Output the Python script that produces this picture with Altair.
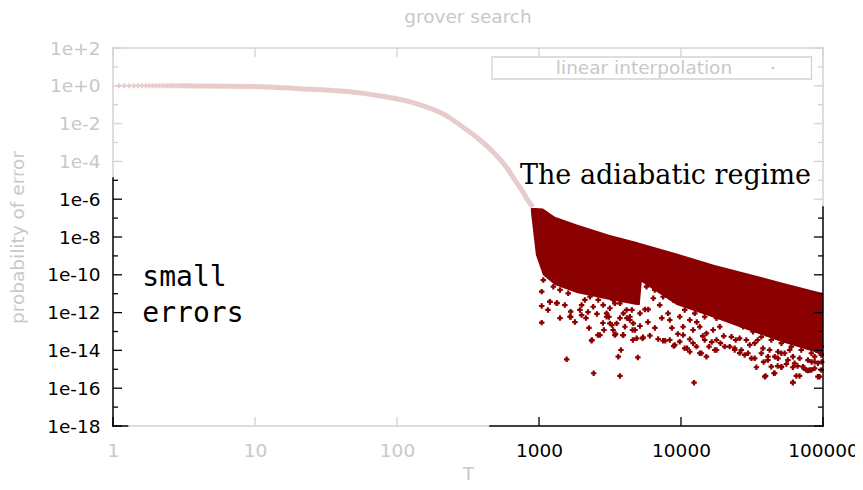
import altair as alt
import pandas as pd

W, H = 710, 378
DARK = "#8b0000"
PINK = "#e8cccc"
GTXT = "#c8c8c8"
GAX = "#d3d3d3"
FONT = "DejaVu Sans"

# ---------------- data ----------------
chart_title = "grover search"

# early, faded samples (individual crosses near T=1)
early_T = [1.1, 1.2, 1.3, 1.4, 1.5, 1.6, 1.7, 1.8, 1.9, 2.0,
           2.1, 2.2, 2.3, 2.4, 2.5, 2.6, 2.7, 2.8, 2.9, 3.0]
early_p = [1.0, 1.0, 1.0, 1.0, 1.0, 1.0, 1.0, 1.0, 1.0, 1.0,
           1.0, 1.0, 1.0, 1.0, 1.0, 1.0, 1.0, 1.0, 1.0, 1.0]

# faded curve (dense samples merging into a band)
fade_T = [3, 4, 10, 21, 47, 76, 130, 225, 278, 384, 490, 595, 675, 771, 830, 906]
fade_p = [1.0, 0.99, 0.93, 0.70, 0.48, 0.29, 0.128, 0.025, 8.4e-3, 1.36e-3,
          2.5e-4, 4.5e-5, 1.04e-5, 2.4e-6, 9.1e-7, 3.9e-7]

# dense adiabatic band: upper and lower edge of the solid cloud
band_T = [877, 951, 1065, 1294, 1848, 3152, 4881, 5124, 5292, 9330, 17260,
          29450, 51080, 87150, 100000]
band_hi = [3.42e-7, 3.42e-7, 3.22e-7, 1.19e-7, 4.58e-8, 1.28e-8, 5.43e-9,
           4.82e-9, 4.53e-9, 1.34e-9, 3.30e-10, 1.17e-10, 3.92e-11, 1.39e-11, 1.09e-11]
band_lo = [2.10e-7, 1.12e-9, 9.75e-11, 2.88e-11, 1.09e-11, 4.64e-12, 2.52e-12,
           2.52e-12, 4.16e-11, 2.52e-12, 5.18e-13, 1.20e-13, 2.78e-14, 8.22e-15, 5.06e-15]

# scattered samples below the band (log10 T, log10 p)
sc_lt = [3.019, 3.019, 3.077, 3.127, 3.195, 3.223, 3.223, 3.288, 3.352, 3.373,
         3.385, 3.415, 3.450, 3.492, 3.513, 3.539, 3.558, 3.570, 3.577, 3.591,
         3.659, 3.661, 3.696, 3.729, 3.781, 3.839, 3.874, 3.921, 3.949, 3.991,
         4.015, 4.043, 4.062, 4.092, 4.109, 4.132, 4.167, 4.179, 4.197, 4.250,
         4.278, 4.308, 4.343, 4.378, 4.413, 4.448, 4.496, 4.531, 4.566, 4.596,
         4.612, 4.636, 4.660, 4.683, 4.707, 4.742, 4.788, 4.812, 4.835, 4.859,
         4.883, 4.918, 4.941, 4.976, 4.988, 3.030, 3.077, 3.042, 3.101, 3.124,
         3.148, 3.171, 3.206, 3.241, 3.265, 3.288, 3.300, 3.323, 3.359, 3.382,
         3.417, 3.452, 3.476, 3.499, 3.534, 3.558, 3.019, 3.077, 3.124, 3.218,
         3.300, 3.370, 3.429, 3.476, 3.499, 3.522, 3.522, 3.570, 3.617, 3.640,
         3.664, 3.594, 3.547, 3.605, 3.534, 3.594, 3.676, 3.688, 3.640, 3.711,
         3.746, 3.793, 3.757, 3.815, 3.850, 3.874, 3.909, 3.944, 3.968, 4.003,
         4.026, 4.062, 4.097, 4.132, 4.167, 4.202, 4.250, 3.746, 3.769, 3.805,
         3.850, 3.909, 3.921, 3.991, 4.015, 4.062, 4.085, 4.132, 4.179, 4.226,
         4.250, 3.733, 3.889, 3.956, 4.026, 4.062, 4.085, 4.144, 4.238, 4.261,
         4.285, 4.331, 4.366, 4.401, 4.437, 4.472, 4.507, 4.542, 4.566, 4.601,
         4.636, 4.672, 4.707, 4.742, 4.777, 4.812, 4.847, 4.883, 4.918, 4.953,
         4.988, 4.273, 4.355, 4.413, 4.460, 4.519, 4.577, 4.624, 4.683, 4.730,
         4.788, 4.835, 4.894, 4.941, 4.964, 4.378, 4.425, 4.472, 4.519, 4.612,
         4.660, 4.707, 4.753, 4.800, 4.906, 4.941, 4.988, 4.590, 4.655, 4.707,
         4.788, 4.788, 4.866, 4.894, 4.964,
         3.063, 3.148, 3.253, 3.331, 3.408, 3.457, 3.619, 3.654, 3.767, 3.816,
         3.865, 3.936, 3.978, 4.111, 4.153, 4.216, 4.301, 4.385, 4.484, 4.540,
         4.582, 4.681, 4.765, 4.821, 4.920, 4.990, 3.345, 3.182, 3.570, 3.711]
sc_lp = [-11.65, -12.53, -11.44, -11.49, -14.47, -11.95, -12.23, -11.86, -12.81, -13.45,
         -15.21, -13.19, -12.55, -12.23, -12.66, -13.13, -14.33, -15.35, -13.98, -13.19,
         -12.92, -13.45, -14.37, -13.36, -13.22, -13.40, -13.49, -13.45, -13.77, -13.54,
         -13.19, -13.89, -13.41, -15.71, -13.80, -14.15, -13.45, -14.33, -13.80, -13.98,
         -13.62, -13.80, -13.80, -13.98, -14.14, -14.24, -14.42, -14.89, -14.15, -15.35,
         -14.33, -14.86, -15.21, -14.42, -14.86, -14.72, -15.71, -15.35, -15.35, -14.86,
         -15.04, -15.04, -14.60, -15.39, -14.24, -10.28, -9.92, -9.75, -10.63, -10.19,
         -10.80, -10.45, -10.98, -10.63, -10.28, -10.80, -11.60, -11.33, -11.16, -11.69,
         -11.33, -11.60, -12.04, -11.77, -11.51, -11.16, -10.89, -11.42, -11.51, -12.22,
         -12.13, -13.49, -13.19, -12.22, -12.57, -12.92, -11.33, -11.51, -11.86, -12.22,
         -12.57, -12.04, -12.57, -12.75, -13.19, -13.19, -12.92, -13.36, -12.39, -12.04,
         -10.01, -10.28, -10.63, -10.80, -10.54, -11.16, -10.80, -11.33, -11.07, -11.51,
         -11.86, -11.42, -12.04, -11.69, -12.22, -11.86, -12.30, -11.83, -11.83, -11.24,
         -11.60, -12.04, -12.39, -12.22, -12.75, -12.39, -12.92, -12.75, -13.10, -12.92,
         -13.45, -13.31, -13.49, -13.71, -13.89, -14.07, -13.62, -14.15, -13.98, -11.51,
         -12.22, -11.86, -12.39, -12.13, -12.75, -12.48, -13.01, -12.75, -13.28, -13.10,
         -13.45, -13.28, -13.62, -13.45, -13.80, -13.62, -13.98, -13.80, -14.15, -13.98,
         -13.80, -12.75, -13.28, -13.36, -13.45, -13.62, -13.89, -13.98, -14.07, -14.15,
         -14.33, -14.42, -14.51, -14.33, -14.68, -13.89, -13.98, -14.15, -14.42, -14.51,
         -14.33, -14.15, -14.51, -14.68, -15.04, -14.95, -15.04, -15.39, -15.21, -14.89,
         -14.89, -15.69, -14.95, -15.07, -15.39,
         -11.86, -12.29, -12.50, -12.29, -12.07, -12.92, -12.29, -11.86, -12.50, -12.81,
         -12.29, -12.81, -13.13, -12.50, -13.24, -13.56, -13.24, -13.45, -13.71, -13.45,
         -14.61, -14.83, -13.98, -14.83, -14.61, -14.61, -11.97, -11.60, -12.29, -12.71]

# axis ticks
y_major = [1e2, 1e0, 1e-2, 1e-4, 1e-6, 1e-8, 1e-10, 1e-12, 1e-14, 1e-16, 1e-18]
y_minor = [1e1, 1e-1, 1e-3, 1e-5, 1e-7, 1e-9, 1e-11, 1e-13, 1e-15, 1e-17]
x_major = [1, 10, 100, 1000, 10000, 100000]

# highlighted (black) stretches of the border
left_black_from = 1.32e-5
right_black_from = 3.86e-7
bottom_segments = [(1, 1.29, "black"), (1.29, 452, GAX), (452, 100000, "black")]

annot_title = "The adiabatic regime"
annot_T, annot_p = 734, 6.4e-6
small_lines = ["small", "errors"]
small_T = [1.61, 1.61]
small_p = [2.57e-11, 3.18e-13]

# ---------------- scales / axes ----------------
xsc = alt.Scale(type="log", domain=[1, 100000], nice=False)
ysc = alt.Scale(type="log", domain=[1e-18, 1e2], nice=False)

xaxis = alt.Axis(
    values=x_major, labelExpr="format(datum.value, 'd')",
    labelColor={"condition": {"test": "datum.value >= 500", "value": "black"}, "value": GTXT},
    labelFont=FONT, labelFontSize=18.5, labelPadding=15, labelFlush=False,
    labelOverlap=False, domain=False, ticks=False, tickSize=0, grid=False,
    title="T", titleColor=GTXT, titleFont=FONT, titleFontSize=18.5,
    titleFontWeight="normal", titleX=355, titleY=53, titleBaseline="alphabetic",
)
yaxis = alt.Axis(
    values=y_major,
    labelExpr="'1e' + (datum.value >= 1 ? '+' : '') + round(log(datum.value)/LN10)",
    labelColor={"condition": {"test": "datum.value <= 1.5e-6", "value": "black"}, "value": GTXT},
    labelFont=FONT, labelFontSize=18.5, labelPadding=13, labelFlush=False,
    labelOverlap=False, domain=False, ticks=False, tickSize=0, grid=False,
    title="probability of error", titleColor=GTXT, titleFont=FONT, titleFontSize=18.5,
    titleFontWeight="normal", titleX=-90, titleY=189, titleAngle=270,
    titleBaseline="alphabetic", titleAlign="center",
)


def X(f):
    return alt.X(f, type="quantitative", scale=xsc, axis=xaxis)


def Y(f):
    return alt.Y(f, type="quantitative", scale=ysc, axis=yaxis)


NOC = alt.Color("col:N", scale=None)

# ---------------- layers ----------------
early_df = pd.DataFrame({"T": early_T, "p": early_p})
fade_df = pd.DataFrame({"T": fade_T, "p": fade_p})
band_df = pd.DataFrame({"T": band_T, "hi": band_hi, "lo": band_lo})
sc_df = pd.DataFrame({"T": [10 ** v for v in sc_lt], "p": [10 ** v for v in sc_lp]})

fade_line = alt.Chart(fade_df).mark_line(color=PINK, strokeWidth=5, interpolate="monotone").encode(
    x=X("T"), y=Y("p"))
early_pts = alt.Chart(early_df).mark_point(shape="cross", filled=True, size=25, color=PINK,
                                            opacity=1, strokeWidth=0).encode(x=X("T"), y=Y("p"))
band = alt.Chart(band_df).mark_area(color=DARK, opacity=1).encode(x=X("T"), y=Y("hi"), y2="lo")
scatter = alt.Chart(sc_df).mark_point(shape="cross", filled=True, size=30, color=DARK,
                                      opacity=1, strokeWidth=0).encode(x=X("T"), y=Y("p"))

# border segments
vleft = pd.DataFrame({"a": [1e2, left_black_from], "b": [left_black_from, 1e-18], "col": [GAX, "black"]})
vright = pd.DataFrame({"a": [1e2, right_black_from], "b": [right_black_from, 1e-18], "col": [GAX, "black"]})
hbottom = pd.DataFrame({"a": [s[0] for s in bottom_segments], "b": [s[1] for s in bottom_segments],
                        "col": [s[2] for s in bottom_segments]})
htop = pd.DataFrame({"a": [1], "b": [100000], "col": [GAX]})

border = [
    alt.Chart(vleft).mark_rule(strokeWidth=1.5, strokeCap="square").encode(x=alt.value(0), y=Y("a"), y2="b", color=NOC),
    alt.Chart(vright).mark_rule(strokeWidth=1.5, strokeCap="square").encode(x=alt.value(W), y=Y("a"), y2="b", color=NOC),
    alt.Chart(hbottom).mark_rule(strokeWidth=1.5, strokeCap="square").encode(y=alt.value(H), x=X("a"), x2="b", color=NOC),
    alt.Chart(htop).mark_rule(strokeWidth=1.5, strokeCap="square").encode(y=alt.value(0), x=X("a"), x2="b", color=NOC),
]

ymaj_l = pd.DataFrame({"v": y_major, "col": ["black" if v <= left_black_from else GAX for v in y_major]})
ymin_l = pd.DataFrame({"v": y_minor, "col": ["black" if v <= left_black_from else GAX for v in y_minor]})
ymaj_r = pd.DataFrame({"v": y_major, "col": ["black" if v <= right_black_from else GAX for v in y_major]})
ymin_r = pd.DataFrame({"v": y_minor, "col": ["black" if v <= right_black_from else GAX for v in y_minor]})
xb = pd.DataFrame({"v": x_major, "col": ["black" if (v >= 452 or v == 1) else GAX for v in x_major]})
xt = pd.DataFrame({"v": x_major, "col": [GAX for v in x_major]})

ticks = [
    alt.Chart(ymaj_l).mark_rule(strokeWidth=1.3).encode(x=alt.value(0), x2=alt.value(9), y=Y("v"), color=NOC),
    alt.Chart(ymin_l).mark_rule(strokeWidth=1.3).encode(x=alt.value(0), x2=alt.value(5), y=Y("v"), color=NOC),
    alt.Chart(ymaj_r).mark_rule(strokeWidth=1.3).encode(x=alt.value(W), x2=alt.value(W - 9), y=Y("v"), color=NOC),
    alt.Chart(ymin_r).mark_rule(strokeWidth=1.3).encode(x=alt.value(W), x2=alt.value(W - 5), y=Y("v"), color=NOC),
    alt.Chart(xb).mark_rule(strokeWidth=1.3).encode(x=X("v"), y=alt.value(H), y2=alt.value(H - 9), color=NOC),
    alt.Chart(xt).mark_rule(strokeWidth=1.3).encode(x=X("v"), y=alt.value(0), y2=alt.value(9), color=NOC),
]

adiab = alt.Chart(pd.DataFrame({"T": [annot_T], "p": [annot_p], "t": [annot_title]})).mark_text(
    font="DejaVu Serif", fontSize=27, color="black", align="left", baseline="alphabetic").encode(
    x=X("T"), y=Y("p"), text="t:N")
small = alt.Chart(pd.DataFrame({"T": small_T, "p": small_p, "t": small_lines})).mark_text(
    font="DejaVu Sans Mono", fontSize=28, color="black", align="left", baseline="alphabetic").encode(
    x=X("T"), y=Y("p"), text="t:N")

title_df = pd.DataFrame({"t": [chart_title]})
title_txt = alt.Chart(title_df).mark_text(font=FONT, fontSize=18.5, color=GTXT, align="center",
                                          baseline="alphabetic").encode(
    x=alt.value(W / 2), y=alt.value(-25), text="t:N")

leg_df = pd.DataFrame({"label": ["linear interpolation"]})
leg_box = alt.Chart(leg_df).mark_rect(fillOpacity=0, stroke=GAX, strokeWidth=1.3).encode(
    x=alt.value(379), x2=alt.value(698.5), y=alt.value(9), y2=alt.value(31))
leg_txt = alt.Chart(leg_df).mark_text(font=FONT, fontSize=18.5, color=GTXT, align="center",
                                      baseline="middle").encode(x=alt.value(531), y=alt.value(20), text="label:N")
leg_pt = alt.Chart(leg_df).mark_point(shape="cross", filled=True, size=6, color="#e0a0a0",
                                      opacity=1, strokeWidth=0).encode(x=alt.value(660), y=alt.value(20))

chart = alt.layer(
    fade_line, early_pts, band, scatter, *border, *ticks, adiab, small, title_txt,
    leg_box, leg_txt, leg_pt
).properties(
    width=W, height=H,
    padding={"left": 105, "top": 40, "right": 32, "bottom": 56},
    autosize=alt.AutoSizeParams(type="none"),
).configure_view(strokeWidth=0)

chart.save("out.html", embed_options={"renderer": "svg", "actions": False})
